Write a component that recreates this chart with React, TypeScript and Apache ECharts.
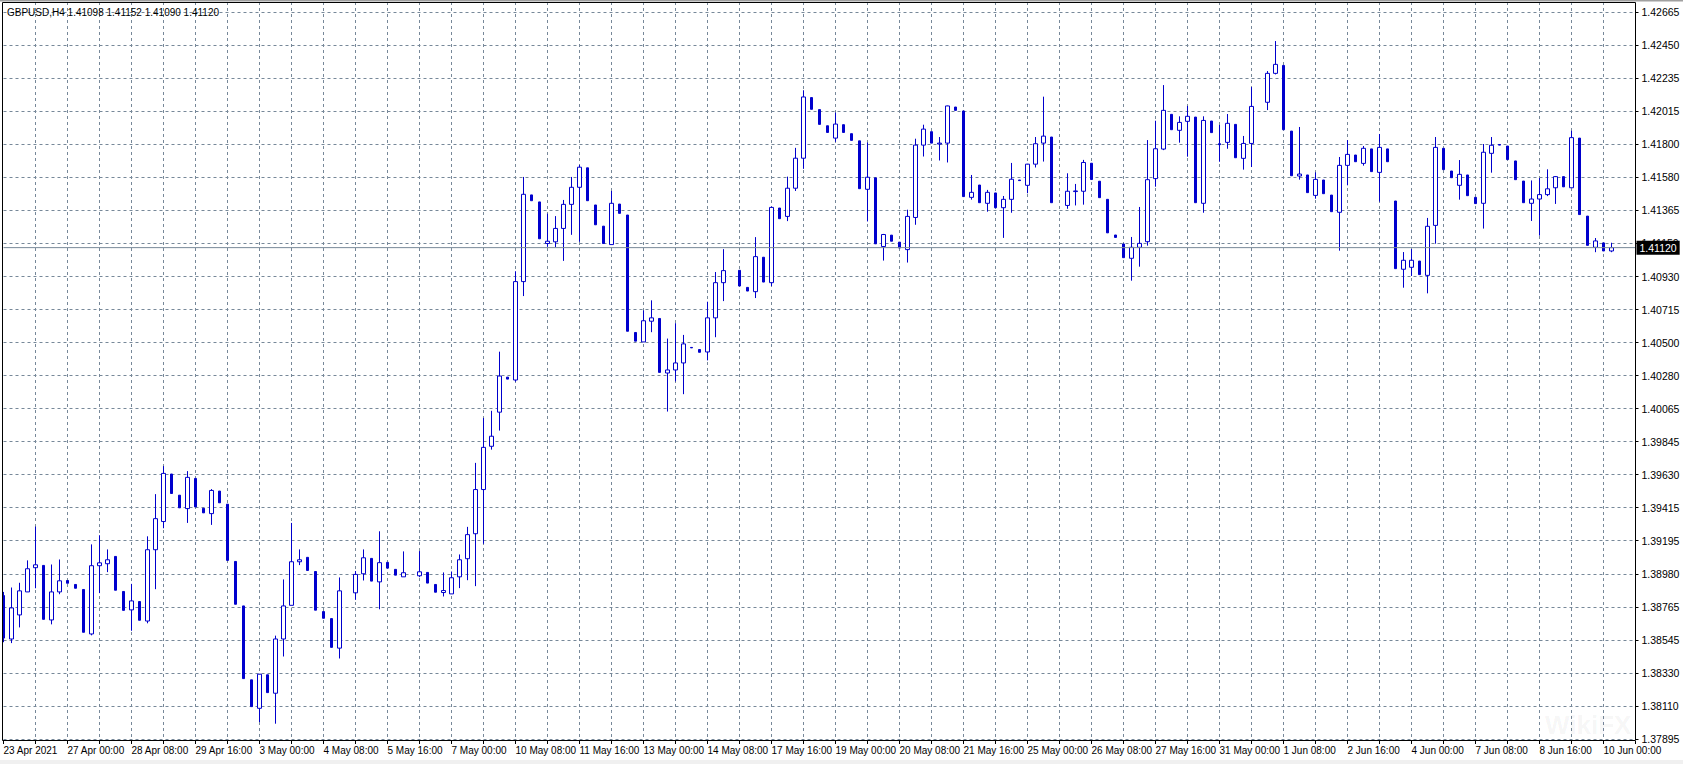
import React, { useEffect, useRef } from 'react';
import * as echarts from 'echarts';

const TITLE = 'GBPUSD,H4 1.41098 1.41152 1.41090 1.41120';
const BID = 1.4112;

const Y_LABELS = ['1.37895','1.38110','1.38330','1.38545','1.38765','1.38980','1.39195','1.39415','1.39630','1.39845','1.40065','1.40280','1.40500','1.40715','1.40930','1.41150','1.41365','1.41580','1.41800','1.42015','1.42235','1.42450','1.42665'];

const X_LABELS = ['23 Apr 2021','27 Apr 00:00','28 Apr 08:00','29 Apr 16:00','3 May 00:00','4 May 08:00','5 May 16:00','7 May 00:00','10 May 08:00','11 May 16:00','13 May 00:00','14 May 08:00','17 May 16:00','19 May 00:00','20 May 08:00','21 May 16:00','25 May 00:00','26 May 08:00','27 May 16:00','31 May 00:00','1 Jun 08:00','2 Jun 16:00','4 Jun 00:00','7 Jun 08:00','8 Jun 16:00','10 Jun 00:00'];

// [open, close, low, high]; null = no visible bar
const OHLC: (number[] | null)[] = [
  [1.38836,1.38557,1.38530,1.38860],
  [1.38551,1.38755,1.38524,1.38889],
  [1.38709,1.38867,1.38627,1.38920],
  [1.38860,1.39012,1.38860,1.39067],
  [1.39019,1.39038,1.38884,1.39289],
  [1.39034,1.38680,1.38680,1.39034],
  [1.38676,1.38860,1.38647,1.39040],
  [1.38860,1.38933,1.38845,1.39073],
  [1.38935,1.38917,1.38917,1.38935],
  [1.38909,1.38884,1.38884,1.38909],
  [1.38876,1.38595,1.38595,1.38876],
  [1.38584,1.39032,1.38575,1.39172],
  [1.39032,1.39051,1.38852,1.39232],
  [1.39045,1.39071,1.38990,1.39139],
  [1.39093,1.38871,1.38871,1.39093],
  [1.38863,1.38739,1.38739,1.38863],
  [1.38742,1.38801,1.38605,1.38913],
  [1.38797,1.38674,1.38674,1.38797],
  [1.38669,1.39137,1.38654,1.39225],
  [1.39137,1.39341,1.38878,1.39502],
  [1.39322,1.39638,1.39278,1.39686],
  [1.39634,1.39506,1.39506,1.39634],
  [1.39495,1.39412,1.39412,1.39495],
  [1.39407,1.39612,1.39313,1.39653],
  [1.39605,1.39418,1.39418,1.39607],
  [1.39409,1.39379,1.39379,1.39409],
  [1.39374,1.39526,1.39300,1.39535],
  [1.39522,1.39445,1.39445,1.39522],
  [1.39436,1.39067,1.39067,1.39436],
  [1.39060,1.38779,1.38779,1.39060],
  [1.38768,1.38291,1.38291,1.38768],
  [1.38283,1.38107,1.38107,1.38283],
  [1.38096,1.38320,1.38006,1.38320],
  [1.38316,1.38199,1.38199,1.38316],
  [1.38195,1.38551,1.37995,1.38573],
  [1.38551,1.38768,1.38436,1.38942],
  [1.38772,1.39058,1.38772,1.39313],
  [1.39058,1.39071,1.39036,1.39139],
  [1.39087,1.39001,1.39001,1.39087],
  [1.38994,1.38740,1.38740,1.38994],
  [1.38731,1.38687,1.38687,1.38731],
  [1.38685,1.38496,1.38496,1.38685],
  [1.38491,1.38867,1.38423,1.38955],
  null,
  [1.38854,1.38975,1.38808,1.38997],
  [1.38979,1.39084,1.38935,1.39139],
  [1.39080,1.38931,1.38931,1.39080],
  [1.38926,1.39052,1.38746,1.39258],
  [1.39054,1.39016,1.39016,1.39054],
  [1.39008,1.38970,1.38970,1.39008],
  [1.38959,1.38986,1.38959,1.39126],
  null,
  [1.38966,1.38992,1.38957,1.39128],
  [1.38988,1.38918,1.38918,1.38988],
  [1.38909,1.38858,1.38858,1.38909],
  [1.38856,1.38869,1.38830,1.38988],
  [1.38847,1.38953,1.38847,1.38994],
  [1.38959,1.39071,1.38885,1.39106],
  [1.39078,1.39236,1.38937,1.39287],
  [1.39242,1.39532,1.38898,1.39707],
  [1.39532,1.39809,1.39176,1.40002],
  [1.39816,1.39882,1.39794,1.40049],
  [1.40040,1.40277,1.39919,1.40437],
  [1.40270,1.40257,1.40257,1.40270],
  [1.40251,1.40897,1.40240,1.40965],
  [1.40897,1.41470,1.40802,1.41584],
  [1.41466,1.41428,1.41428,1.41466],
  [1.41420,1.41178,1.41178,1.41420],
  [1.41147,1.41162,1.41125,1.41343],
  [1.41158,1.41246,1.41123,1.41327],
  [1.41246,1.41404,1.41033,1.41433],
  [1.41404,1.41516,1.41204,1.41584],
  [1.41516,1.41648,1.41158,1.41663],
  [1.41644,1.41428,1.41428,1.41644],
  [1.41400,1.41270,1.41270,1.41400],
  [1.41261,1.41147,1.41147,1.41261],
  [1.41140,1.41411,1.41140,1.41492],
  [1.41406,1.41345,1.41345,1.41406],
  [1.41334,1.40571,1.40571,1.41334],
  [1.40563,1.40506,1.40506,1.40563],
  [1.40501,1.40640,1.40501,1.40708],
  [1.40637,1.40659,1.40565,1.40774],
  [1.40655,1.40301,1.40301,1.40655],
  [1.40297,1.40317,1.40044,1.40523],
  [1.40317,1.40363,1.40242,1.40624],
  [1.40363,1.40488,1.40158,1.40547],
  [1.40465,1.40462,1.40462,1.40465],
  [1.40451,1.40433,1.40433,1.40451],
  [1.40435,1.40659,1.40380,1.40765],
  [1.40659,1.40890,1.40532,1.40960],
  [1.40890,1.40969,1.40769,1.41110],
  null,
  [1.40971,1.40868,1.40868,1.40971],
  [1.40859,1.40835,1.40835,1.40859],
  [1.40831,1.41061,1.40789,1.41189],
  [1.41057,1.40894,1.40894,1.41057],
  [1.40890,1.41384,1.40868,1.41389],
  [1.41380,1.41310,1.41310,1.41380],
  [1.41325,1.41510,1.41294,1.41586],
  [1.41510,1.41707,1.41492,1.41775],
  [1.41707,1.42109,1.41637,1.42153],
  [1.42105,1.42028,1.42028,1.42105],
  [1.42026,1.41929,1.41929,1.42026],
  [1.41920,1.41876,1.41876,1.41920],
  [1.41839,1.41931,1.41815,1.42006],
  [1.41927,1.41876,1.41876,1.41927],
  [1.41868,1.41824,1.41824,1.41868],
  [1.41821,1.41507,1.41507,1.41821],
  [1.41503,1.41582,1.41292,1.41810],
  [1.41578,1.41145,1.41145,1.41578],
  [1.41127,1.41206,1.41035,1.41210],
  [1.41202,1.41162,1.41162,1.41202],
  [1.41156,1.41118,1.41118,1.41156],
  [1.41107,1.41325,1.41022,1.41369],
  [1.41318,1.41793,1.41270,1.41835],
  [1.41793,1.41898,1.41718,1.41927],
  [1.41881,1.41806,1.41806,1.41881],
  [1.41800,1.41806,1.41692,1.41846],
  [1.41806,1.42050,1.41679,1.42052],
  [1.42043,1.42021,1.42021,1.42043],
  [1.42017,1.41455,1.41455,1.42017],
  [1.41450,1.41483,1.41435,1.41597],
  [1.41531,1.41415,1.41415,1.41531],
  [1.41411,1.41483,1.41356,1.41499],
  [1.41479,1.41382,1.41382,1.41479],
  [1.41382,1.41437,1.41184,1.41459],
  [1.41437,1.41569,1.41349,1.41676],
  [1.41564,1.41560,1.41560,1.41564],
  [1.41529,1.41668,1.41477,1.41670],
  [1.41668,1.41802,1.41646,1.41846],
  [1.41806,1.41852,1.41685,1.42111],
  [1.41846,1.41415,1.41415,1.41846],
  null,
  [1.41397,1.41490,1.41375,1.41608],
  [1.41488,1.41492,1.41397,1.41538],
  [1.41490,1.41679,1.41402,1.41696],
  [1.41674,1.41567,1.41567,1.41674],
  [1.41556,1.41448,1.41448,1.41556],
  [1.41437,1.41217,1.41217,1.41437],
  [1.41203,1.41187,1.41187,1.41203],
  [1.41144,1.41054,1.41054,1.41144],
  [1.41050,1.41122,1.40903,1.41190],
  [1.41122,1.41148,1.40995,1.41387],
  [1.41159,1.41566,1.41133,1.41826],
  [1.41573,1.41769,1.41520,1.41953],
  [1.41767,1.42021,1.41760,1.42187],
  [1.41995,1.41894,1.41894,1.41995],
  [1.41890,1.41942,1.41809,1.41982],
  [1.41949,1.41982,1.41717,1.42050],
  [1.41977,1.41415,1.41415,1.41977],
  [1.41411,1.41955,1.41349,1.41982],
  [1.41951,1.41875,1.41875,1.41951],
  [1.41802,1.41796,1.41684,1.41925],
  [1.41811,1.41936,1.41769,1.41997],
  [1.41929,1.41710,1.41710,1.41929],
  [1.41706,1.41804,1.41632,1.41853],
  [1.41804,1.42047,1.41649,1.42174],
  null,
  [1.42074,1.42264,1.42023,1.42279],
  [1.42264,1.42323,1.42257,1.42476],
  [1.42316,1.41894,1.41894,1.42316],
  [1.41885,1.41592,1.41592,1.41885],
  [1.41590,1.41603,1.41566,1.41912],
  [1.41597,1.41481,1.41481,1.41597],
  [1.41463,1.41568,1.41441,1.41614],
  [1.41564,1.41474,1.41474,1.41564],
  [1.41465,1.41356,1.41356,1.41465],
  [1.41352,1.41660,1.41100,1.41715],
  [1.41660,1.41732,1.41529,1.41826],
  [1.41728,1.41684,1.41684,1.41728],
  [1.41673,1.41772,1.41658,1.41787],
  [1.41768,1.41619,1.41619,1.41768],
  [1.41614,1.41778,1.41422,1.41866],
  [1.41768,1.41684,1.41684,1.41768],
  [1.41426,1.40982,1.40982,1.41426],
  [1.40978,1.41037,1.40857,1.41091],
  [1.40991,1.41037,1.40934,1.41111],
  [1.41032,1.40943,1.40943,1.41032],
  [1.40938,1.41260,1.40820,1.41315],
  [1.41266,1.41778,1.41146,1.41846],
  [1.41772,1.41632,1.41632,1.41772],
  [1.41623,1.41579,1.41579,1.41623],
  [1.41529,1.41601,1.41435,1.41695],
  [1.41597,1.41461,1.41461,1.41597],
  [1.41450,1.41409,1.41409,1.41450],
  [1.41411,1.41746,1.41245,1.41800],
  [1.41739,1.41792,1.41612,1.41846],
  [1.41797,1.41793,1.41793,1.41797],
  [1.41787,1.41698,1.41698,1.41787],
  [1.41689,1.41566,1.41566,1.41689],
  [1.41557,1.41415,1.41415,1.41557],
  [1.41411,1.41439,1.41295,1.41561],
  [1.41439,1.41468,1.41199,1.41577],
  [1.41468,1.41506,1.41458,1.41634],
  [1.41513,1.41586,1.41407,1.41590],
  [1.41586,1.41519,1.41519,1.41586],
  [1.41513,1.41842,1.41513,1.41887],
  [1.41839,1.41337,1.41337,1.41839],
  [1.41327,1.41135,1.41135,1.41327],
  [1.41122,1.41164,1.41090,1.41183],
  [1.41151,1.41098,1.41098,1.41151],
  [1.41098,1.41120,1.41090,1.41152],
];

const SLOTS = 205; // bar slots across the visible chart width
const Y_MIN = 1.37895;
const Y_STEPS = 22;
const Y_INTERVAL = Y_MIN / 636; // chosen so that Y_MIN is an exact multiple of the interval

const BLUE = '#0000CD';
const GRID = '#778899';
const FONT = 'Tahoma, "Liberation Sans", Arial, sans-serif';

function makeTimes(n: number): string[] {
  const out: string[] = [];
  let t = Date.UTC(2021, 3, 23, 16);
  const p = (x: number) => String(x).padStart(2, '0');
  while (out.length < n) {
    const d = new Date(t);
    const wd = d.getUTCDay();
    if (wd !== 0 && wd !== 6) {
      out.push(`${d.getUTCFullYear()}.${p(d.getUTCMonth() + 1)}.${p(d.getUTCDate())} ${p(d.getUTCHours())}:00`);
    }
    t += 4 * 3600 * 1000;
  }
  return out;
}

const EMPTY = ['-', '-', '-', '-'];

export default function App() {
  const ref = useRef<HTMLDivElement>(null);
  useEffect(() => {
    if (!ref.current) return;
    const chart = echarts.init(ref.current, undefined, { renderer: 'svg' });
    const cats = makeTimes(SLOTS);
    const bull = OHLC.map((c) => (c && c[1] >= c[0] ? c : EMPTY));
    const bear = OHLC.map((c) => (c && c[1] < c[0] ? c : EMPTY));
    const yMax = Y_MIN + Y_STEPS * Y_INTERVAL - 1e-9;
    const dash = [3, 3];

    chart.setOption({
      animation: false,
      backgroundColor: '#ffffff',
      textStyle: { fontFamily: FONT },
      grid: [
        { left: 3.5, right: 47.5, top: 12.27, bottom: 25.07 },
        { left: 3.5, right: 47.5, top: 2, bottom: 23 },
      ],
      xAxis: [
        { type: 'category', gridIndex: 0, data: cats, boundaryGap: false, show: false },
        {
          type: 'category', gridIndex: 1, data: cats, boundaryGap: false,
          axisLine: { show: false },
          axisTick: { show: true, interval: (i: number) => i % 4 === 0, length: 3, lineStyle: { color: '#000' } },
          axisLabel: {
            interval: (i: number) => i % 8 === 0,
            formatter: (_v: string, i: number) => X_LABELS[i / 8] ?? '',
            align: 'left', margin: 4, fontSize: 10, color: '#000', fontFamily: FONT,
          },
          splitLine: {
            show: true,
            interval: (i: number) => i % 4 === 0 && i > 0 && i < SLOTS - 1,
            lineStyle: { color: GRID, type: dash, width: 1 },
          },
        },
      ],
      yAxis: [
        {
          type: 'value', gridIndex: 0, position: 'right',
          min: Y_MIN, max: yMax, interval: Y_INTERVAL,
          axisLine: { show: false },
          axisTick: { show: true, length: 3, lineStyle: { color: '#000' } },
          axisLabel: {
            margin: 6, fontSize: 10.5, color: '#000', fontFamily: FONT,
            formatter: (v: number) => Y_LABELS[Math.round((v - Y_MIN) / Y_INTERVAL)] ?? '',
          },
          splitLine: { show: true, lineStyle: { color: GRID, type: dash, width: 1 } },
        },
        { type: 'value', gridIndex: 1, show: false, min: 0, max: 1 },
      ],
      series: [
        {
          type: 'candlestick', xAxisIndex: 0, yAxisIndex: 0, data: bull, barWidth: 4, silent: true,
          itemStyle: { color: '#ffffff', color0: '#ffffff', borderColor: BLUE, borderColor0: BLUE, borderWidth: 1 },
        },
        {
          type: 'candlestick', xAxisIndex: 0, yAxisIndex: 0, data: bear, barWidth: 2, silent: true,
          itemStyle: { color: BLUE, color0: BLUE, borderColor: BLUE, borderColor0: BLUE, borderWidth: 1 },
        },
        {
          type: 'line', xAxisIndex: 0, yAxisIndex: 0, silent: true, symbol: 'none', z: 5,
          data: [[0, BID], [SLOTS - 1, BID]],
          lineStyle: { color: GRID, width: 1, type: 'solid' },
          endLabel: {
            show: true, formatter: () => BID.toFixed(5), distance: 1,
            color: '#ffffff', backgroundColor: '#000000', padding: [2, 3, 1, 3], fontSize: 10.5, fontFamily: FONT,
          },
          emphasis: { disabled: true },
        },
      ],
      graphic: [
        { type: 'rect', z: 50, shape: { x: 0, y: 0, width: 1683, height: 1.5 }, style: { fill: '#a0a0a0' } },
        { type: 'rect', z: 50, shape: { x: 0, y: 760, width: 1683, height: 4 }, style: { fill: '#f0f0f0' } },
        { type: 'rect', z: 50, shape: { x: 2.5, y: 2.5, width: 1633, height: 738 }, style: { fill: 'none', stroke: '#000', lineWidth: 1 } },
        { type: 'text', z: 50, x: 7, y: 7, style: { text: TITLE, font: `10px ${FONT}`, fill: '#000' } },
        { type: 'text', z: 1, x: 1545, y: 712, style: { text: 'WikiFX', font: `bold 26px ${FONT}`, fill: 'rgba(0,0,0,0.05)' } },
      ],
    });
    return () => chart.dispose();
  }, []);
  return <div ref={ref} style={{ position: 'absolute', left: 0, top: 0, width: 1683, height: 764, background: '#fff' }} />;
}
